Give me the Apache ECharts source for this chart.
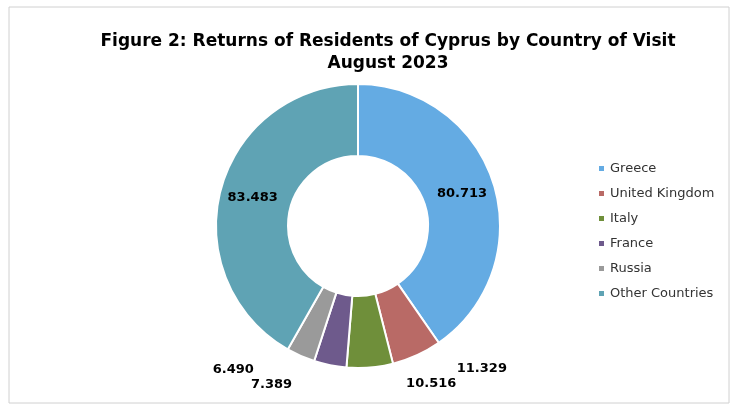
<!DOCTYPE html>
<html><head><meta charset="utf-8">
<script src="https://cdn.jsdelivr.net/npm/echarts@6/dist/echarts.min.js"></script>
<style>html,body{margin:0;padding:0;background:#fff}#c{width:740px;height:413px}</style>
</head><body><div id="c"></div>
<script>
const categories = ["Greece","United Kingdom","Italy","France","Russia","Other Countries"];
const values = [80.713, 11.329, 10.516, 7.389, 6.490, 83.483];
const labels = ["80.713","11.329","10.516","7.389","6.490","83.483"];
const colors = ["#64abe3","#b96a66","#6f8f3a","#6e5a8c","#9a9a9a","#5fa3b4"];
const inside = [true,false,false,false,false,true];
const chart = echarts.init(document.getElementById('c'));
chart.setOption({
  animation:false,
  graphic:[{type:'rect',shape:{x:9,y:7,width:720,height:396},style:{fill:'none',stroke:'#d0d0d0',lineWidth:1}}],
  title:{text:'Figure 2: Returns of Residents of Cyprus by Country of Visit\nAugust 2023',left:383,top:26,textAlign:'center',
    textStyle:{fontFamily:'DejaVu Sans',fontWeight:'bold',fontSize:17,lineHeight:22,color:'#000'}},
  legend:{orient:'vertical',left:592,top:157,itemGap:12,itemWidth:7,itemHeight:7,icon:'rect',
    textStyle:{fontFamily:'DejaVu Sans',fontSize:13,color:'#333'},data:categories},
  series:[{type:'pie',center:[358,226],radius:[70,142],startAngle:90,clockwise:true,
    itemStyle:{borderColor:'#fff',borderWidth:2},
    labelLine:{show:false},
    data:categories.map((n,i)=>({name:n,value:values[i],itemStyle:{color:colors[i]},
      label:{show:true,position:inside[i]?'inside':'outside',distance:2,formatter:labels[i],
        fontFamily:'DejaVu Sans',fontWeight:'bold',fontSize:13,color:'#000'}}))
  }]
});
</script></body></html>
